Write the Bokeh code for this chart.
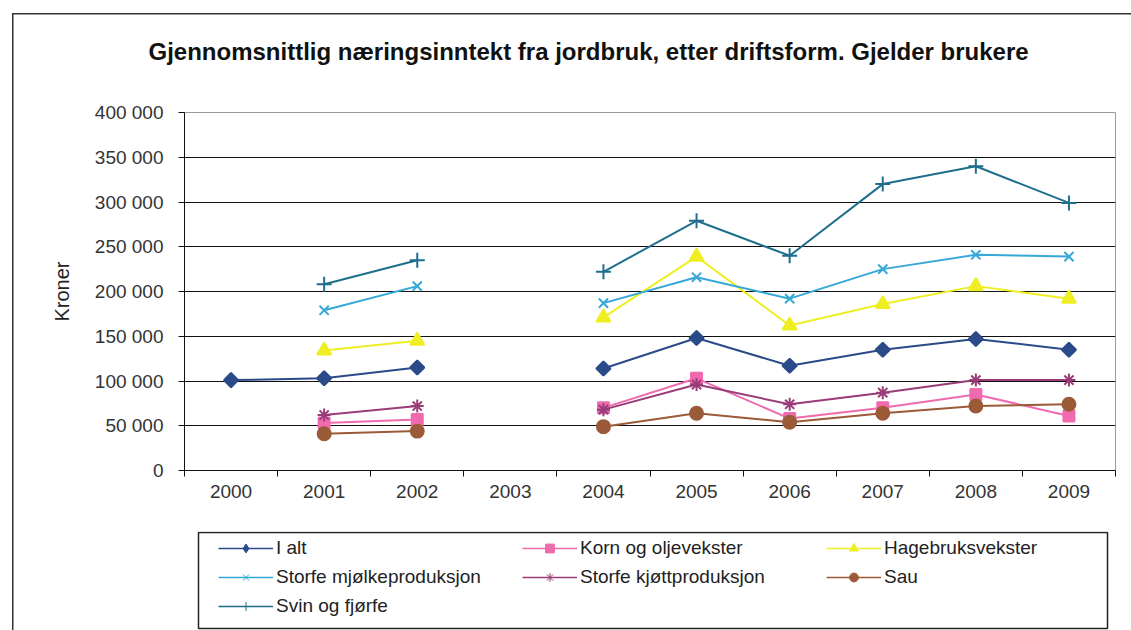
import numpy as np
from bokeh.plotting import figure
from bokeh.layouts import column
from bokeh.models import Range1d, FixedTicker, Legend, LegendItem, Title, BoxAnnotation
from bokeh.embed import file_html
from bokeh.resources import INLINE

# ---------------- data ----------------
years = [2000, 2001, 2002, 2003, 2004, 2005, 2006, 2007, 2008, 2009]

series_names = ["I alt", "Korn og oljevekster", "Hagebruksvekster",
                "Storfe mjølkeproduksjon", "Storfe kjøttproduksjon", "Sau",
                "Svin og fjørfe"]

i_alt = [101000, 103000, 115000, None, 114000, 148000, 117000, 135000, 147000, 135000]
korn = [None, 53000, 57000, None, 70000, 103000, 58000, 70000, 85000, 61000]
hage = [None, 134000, 145000, None, 171000, 239000, 162000, 186000, 206000, 192000]
mjolk = [None, 179000, 206000, None, 187000, 216000, 192000, 225000, 241000, 239000]
kjott = [None, 62000, 72000, None, 68000, 96000, 74000, 87000, 101000, 101000]
sau = [None, 41000, 44000, None, 49000, 64000, 54000, 64000, 72000, 74000]
svin = [None, 208000, 235000, None, 222000, 279000, 240000, 320000, 340000, 299000]

y_ticks = [0, 50000, 100000, 150000, 200000, 250000, 300000, 350000, 400000]
y_tick_labels = ["0", "50 000", "100 000", "150 000", "200 000",
                 "250 000", "300 000", "350 000", "400 000"]

title_text = "Gjennomsnittlig næringsinntekt fra jordbruk, etter driftsform. Gjelder brukere"
y_title = "Kroner"

# ---------------- styles ----------------
FONT = "Liberation Sans"
styles = [
    dict(color="#2b4a8a", marker="square", size=10, angle=np.pi / 4, lmarker="diamond"),
    dict(color="#f06aae", marker="square", size=11, angle=0, lmarker="square"),
    dict(color="#eeee22", marker="triangle", size=14, angle=0, lmarker="triangle"),
    dict(color="#35a8d8", marker="x", size=13, angle=0, lmarker="x"),
    dict(color="#9a3c78", marker="asterisk", size=13, angle=0, lmarker="asterisk"),
    dict(color="#9b5a38", marker="circle", size=13, angle=0, lmarker="circle"),
    dict(color="#1e6e8c", marker="cross", size=15, angle=0, lmarker="cross"),
]
all_series = [i_alt, korn, hage, mjolk, kjott, sau, svin]
yrs = np.array(years, dtype=float)
series_vals = [np.array([np.nan if v is None else v for v in d], dtype=float)
               for d in all_series]

# ---------------- main chart ----------------
p = figure(width=1131, height=531, output_backend="svg", toolbar_location=None,
           x_range=Range1d(1999.5, 2009.5), y_range=Range1d(0, 400000),
           min_border_left=184, min_border_right=16, min_border_top=112,
           min_border_bottom=61)
p.background_fill_color = "white"
p.border_fill_alpha = 0
p.outline_line_color = "#9a9a9a"

# spacer between frame and title
p.add_layout(Title(text=" ", text_font_size="2px", standoff=44), "above")
p.title.text = title_text
p.title.text_font = FONT
p.title.text_font_style = "bold"
p.title.text_font_size = "24px"
p.title.text_color = "#111111"
p.title.align = "left"
p.title.offset = -36
p.title.standoff = 0

p.yaxis.ticker = FixedTicker(ticks=y_ticks)
p.yaxis.major_label_overrides = {t: l for t, l in zip(y_ticks, y_tick_labels)}
p.yaxis.major_tick_out = 6
p.yaxis.major_tick_in = 0
p.yaxis.minor_tick_line_color = None
p.yaxis.major_label_standoff = 15
p.yaxis.axis_line_color = "#111"
p.yaxis.major_tick_line_color = "#111"
p.yaxis.axis_label = y_title
p.yaxis.axis_label_text_font = FONT
p.yaxis.axis_label_text_font_size = "20px"
p.yaxis.axis_label_text_font_style = "normal"
p.yaxis.axis_label_text_color = "#222222"
p.yaxis.axis_label_standoff = 19

p.xaxis.ticker = FixedTicker(ticks=years,
                             minor_ticks=[y - 0.5 for y in years] + [years[-1] + 0.5])
p.xaxis.major_tick_out = 0
p.xaxis.major_tick_in = 0
p.xaxis.minor_tick_out = 6
p.xaxis.minor_tick_in = 0
p.xaxis.minor_tick_line_color = "#111"
p.xaxis.axis_line_color = "#111"
p.xaxis.major_label_standoff = 8

for ax in (p.xaxis, p.yaxis):
    ax.major_label_text_font = FONT
    ax.major_label_text_font_size = "19px"
    ax.major_label_text_color = "#333333"

p.xgrid.grid_line_color = None
p.ygrid.ticker = FixedTicker(ticks=y_ticks)
p.ygrid.grid_line_color = "#111111"
p.ygrid.grid_line_width = 1

for vals, st in zip(series_vals, styles):
    p.line(yrs, vals, line_color=st["color"], line_width=2)
    p.scatter(yrs, vals, marker=st["marker"], size=st["size"], angle=st["angle"],
              fill_color=st["color"], line_color=st["color"], line_width=2)

# ---------------- legend panel ----------------
# same series, on a value range that keeps them out of view: only the legend shows
lg = figure(width=1131, height=99, output_backend="svg", toolbar_location=None,
            x_range=Range1d(1999.5, 2009.5), y_range=Range1d(500000, 600000),
            x_axis_location=None, y_axis_location=None,
            min_border_left=184, min_border_right=16, min_border_top=0,
            min_border_bottom=0)
lg.border_fill_alpha = 0
lg.background_fill_alpha = 0
lg.grid.visible = False
lg.outline_line_color = None

items = []
for name, vals, st in zip(series_names, series_vals, styles):
    lr = lg.line(yrs, vals, line_color=st["color"], line_width=1.5)
    sr = lg.scatter(yrs, vals, marker=st["lmarker"], size=st["size"],
                    fill_color=st["color"], line_color=st["color"], line_width=1)
    items.append(LegendItem(label=name, renderers=[lr, sr]))

legend = Legend(items=items, orientation="horizontal", ncols=3, location=(34, 13),
                label_text_font=FONT, label_text_font_size="19px",
                label_text_color="#222222",
                glyph_width=55, glyph_height=22, label_height=22,
                label_width=239, label_standoff=3, spacing=7, padding=0,
                margin=0, border_line_color=None, background_fill_alpha=0)
lg.add_layout(legend, "center")
lg.add_layout(BoxAnnotation(left=14, right=923, top=98, bottom=2,
                            left_units="screen", right_units="screen",
                            top_units="screen", bottom_units="screen",
                            fill_alpha=0, line_color="#222222", line_alpha=1,
                            line_width=1.5))

layout = column(p, lg, spacing=0,
                styles={"box-shadow": "inset 12px 13px 0 0 #ffffff, inset 13.5px 14.5px 0 0 #333333"})

open("out.html", "w").write(file_html(layout, INLINE))
